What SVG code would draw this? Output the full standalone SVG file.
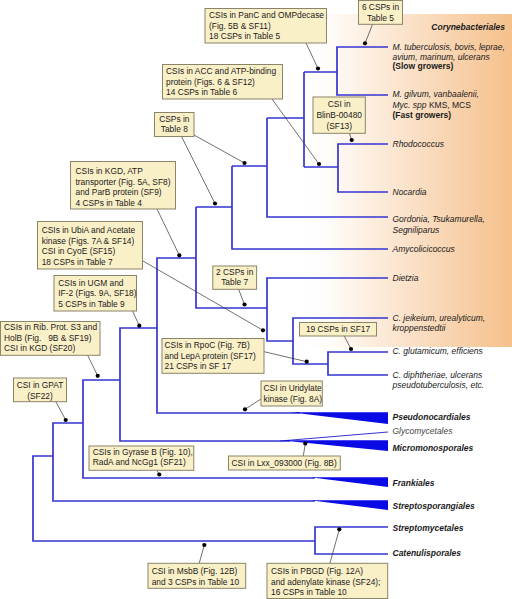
<svg xmlns="http://www.w3.org/2000/svg" width="512" height="599" viewBox="0 0 512 599">
<defs>
<linearGradient id="bg" x1="0" y1="0" x2="1" y2="0">
<stop offset="0" stop-color="#ffffff" stop-opacity="0"/>
<stop offset="0.2" stop-color="#fef7f0"/>
<stop offset="1" stop-color="#f5c08b"/>
</linearGradient>
<style>
text{font-family:"Liberation Sans",Arial,sans-serif;font-size:8.4px;fill:#1a1a1a}
.box rect{fill:#faf0c8;stroke:#8a8468;stroke-width:1}
.c{text-anchor:middle}
.tree path{fill:none;stroke:#3535d2;stroke-width:1.7}
.wedge{fill:#0a0ae6}
.con line{stroke:#333;stroke-width:0.7}
.con circle{fill:#000}
.leaf{font-style:italic;font-size:8.5px}
.clade{font-style:italic;font-weight:bold;font-size:8.5px}
.b{font-weight:bold;font-style:normal}
.r{font-style:normal}
.pre{white-space:pre}
</style>
</defs>
<rect x="300" y="14" width="212" height="333" fill="url(#bg)"/>

<g class="tree" id="tree">
<path d="M388 47H337V95H388"/>
<path d="M337 72H304"/>
<path d="M388 144H338V192H388"/>
<path d="M338 167H304"/>
<path d="M304 72V167"/>
<path d="M304 118H267"/>
<path d="M267 118V217H388"/>
<path d="M267 166H232"/>
<path d="M232 166V249H388"/>
<path d="M232 207H196"/>
<path d="M196 207V308H267"/>
<path d="M388 278H267V341H293"/>
<path d="M388 318H293V364H328"/>
<path d="M388 352H328V375H388"/>
<path d="M196 258H157V413H300"/>
<path d="M157 328H120V441H290"/>
<path d="M120 380H83V478H315"/>
<path d="M83 423H53V501H315"/>
<path d="M53 456H33V541H315"/>
<path d="M388 527H315V554H388"/>
<path d="M280 441L388 432" style="stroke-width:1"/>
<polygon class="wedge" points="290,412.2 388,412.2 388,424"/>
<polygon class="wedge" points="280,440.2 388,440.2 388,451"/>
<polygon class="wedge" points="310,477.2 388,477.2 388,487"/>
<polygon class="wedge" points="310,500.2 388,500.2 388,510"/>
</g>

<g class="con" id="connectors">
<line x1="306" y1="43" x2="318" y2="68.5"/><circle cx="318" cy="68.5" r="2.1"/>
<line x1="272" y1="99" x2="319" y2="164"/><circle cx="319" cy="164" r="2.1"/>
<line x1="194" y1="135" x2="244.5" y2="163"/><circle cx="244.5" cy="163" r="2.1"/>
<line x1="181.5" y1="136.5" x2="215" y2="203.5"/><circle cx="215" cy="203.5" r="2.1"/>
<line x1="157" y1="209" x2="179.3" y2="255.3"/><circle cx="179.3" cy="255.3" r="2.1"/>
<line x1="143" y1="261" x2="263" y2="330.3"/><circle cx="263" cy="330.3" r="2.1"/>
<line x1="238.5" y1="289" x2="244.5" y2="304.5"/><circle cx="244.5" cy="304.5" r="2.1"/>
<line x1="132.5" y1="311" x2="139.3" y2="325.7"/><circle cx="139.3" cy="325.7" r="2.1"/>
<line x1="87.5" y1="355" x2="97.7" y2="375.8"/><circle cx="97.7" cy="375.8" r="2.1"/>
<line x1="56" y1="402" x2="65.7" y2="420"/><circle cx="65.7" cy="420" r="2.1"/>
<line x1="264" y1="351.7" x2="306.7" y2="361.7"/><circle cx="306.7" cy="361.7" r="2.1"/>
<line x1="344.3" y1="336" x2="351" y2="349"/><circle cx="351" cy="349" r="2.1"/>
<line x1="261" y1="399" x2="245" y2="409.3"/><circle cx="245" cy="409.3" r="2.1"/>
<line x1="303.3" y1="456" x2="305.3" y2="443.5"/><circle cx="305.3" cy="443.5" r="2.1"/>
<line x1="156.7" y1="470" x2="159.3" y2="474.5"/><circle cx="159.3" cy="474.5" r="2.1"/>
<line x1="199.3" y1="563" x2="204.3" y2="545"/><circle cx="204.3" cy="545" r="2.1"/>
<line x1="330" y1="563" x2="339.3" y2="529.3"/><circle cx="339.3" cy="529.3" r="2.1"/>
<line x1="372.7" y1="24" x2="365" y2="43.3"/><circle cx="365" cy="43.3" r="2.1"/>
<line x1="349.3" y1="133" x2="351.7" y2="140"/><circle cx="351.7" cy="140" r="2.1"/>
</g>

<g class="box" id="n-panc"><rect x="205" y="8.5" width="121.5" height="34.5"/>
<text x="209" y="18.3">CSIs in PanC and OMPdecase</text>
<text x="209" y="28.8">(Fig. 5B &amp; SF11)</text>
<text x="209" y="39.3">18 CSPs in Table 5</text></g>

<g class="box" id="n-acc"><rect x="162.5" y="64.5" width="120" height="34.5"/>
<text x="166" y="74.3">CSIs in ACC and ATP-binding</text>
<text x="166" y="84.8">protein (Figs. 6 &amp; SF12)</text>
<text x="166" y="95.3">14 CSPs in Table 6</text></g>

<g class="box" id="n-t8"><rect x="154.5" y="112.5" width="39.5" height="24"/>
<text class="c" x="174.3" y="122.3">CSPs in</text>
<text class="c" x="174.3" y="132.3">Table 8</text></g>

<g class="box" id="n-kgd"><rect x="70.5" y="161.5" width="105" height="47.5"/>
<text x="75.5" y="174">CSIs in KGD, ATP</text>
<text x="75.5" y="184.6">transporter (Fig. 5A, SF8)</text>
<text x="75.5" y="195.1">and ParB protein (SF9)</text>
<text x="75.5" y="205.6">4 CSPs in Table 4</text></g>

<g class="box" id="n-ubia"><rect x="37.5" y="221.5" width="105" height="47.5"/>
<text x="41.7" y="233">CSIs in UbiA and Acetate</text>
<text x="41.7" y="243.6">kinase (Figs. 7A &amp; SF14)</text>
<text x="41.7" y="254.2">CSI in CyoE (SF15)</text>
<text x="41.7" y="264.8">18 CSPs in Table 7</text></g>

<g class="box" id="n-t7"><rect x="212.8" y="266" width="43.8" height="23.3"/>
<text class="c" x="234.7" y="274.8">2 CSPs in</text>
<text class="c" x="234.7" y="285.4">Table 7</text></g>

<g class="box" id="n-ugm"><rect x="54" y="275.5" width="82.5" height="35.5"/>
<text x="58.3" y="285.7">CSIs in UGM and</text>
<text x="58.3" y="296.3">IF-2 (Figs. 9A, SF18)</text>
<text x="58.3" y="306.9">5 CSPs in Table 9</text></g>

<g class="box" id="n-rib"><rect x="0.5" y="321.5" width="99.5" height="33.8"/>
<text x="4" y="330">CSIs in Rib. Prot. S3 and</text>
<text class="pre" x="4" y="340.6">HolB (Fig.   9B &amp; SF19)</text>
<text x="4" y="351.1">CSI in KGD (SF20)</text></g>

<g class="box" id="n-gpat"><rect x="13.5" y="378" width="53" height="23.7"/>
<text class="c" x="40" y="388">CSI in GPAT</text>
<text class="c" x="40" y="398.6">(SF22)</text></g>

<g class="box" id="n-rpoc"><rect x="162" y="338.5" width="102" height="34.8"/>
<text x="164.5" y="348">CSIs in RpoC (Fig. 7B)</text>
<text x="164.5" y="358.6">and LepA protein (SF17)</text>
<text x="164.5" y="369.2">21 CSPs in SF 17</text></g>

<g class="box" id="n-sf17"><rect x="299.5" y="322.5" width="77" height="13.5"/>
<text class="c" x="338" y="332.3">19 CSPs in SF17</text></g>

<g class="box" id="n-uri"><rect x="261" y="381" width="61.3" height="25"/>
<text x="263.5" y="391.3">CSI in Uridylate</text>
<text x="263.5" y="402.2">kinase (Fig. 8A)</text></g>

<g class="box" id="n-lxx"><rect x="228.5" y="456" width="111.8" height="14"/>
<text x="231.5" y="466">CSI in Lxx_093000 (Fig. 8B)</text></g>

<g class="box" id="n-gyr"><rect x="89" y="446" width="104.8" height="24.3"/>
<text x="92.7" y="454.7">CSIs in Gyrase B (Fig. 10),</text>
<text x="92.7" y="465.3">RadA and NcGg1 (SF21)</text></g>

<g class="box" id="n-msbb"><rect x="148" y="563.3" width="97.7" height="25"/>
<text x="151.7" y="574">CSI in MsbB (Fig. 12B)</text>
<text x="151.7" y="584.7">and 3 CSPs in Table 10</text></g>

<g class="box" id="n-pbgd"><rect x="267" y="563.3" width="120.7" height="35.2"/>
<text x="271" y="573.7">CSIs in PBGD (Fig. 12A)</text>
<text x="271" y="584.7">and adenylate kinase (SF24);</text>
<text x="271" y="595">16 CSPs in Table 10</text></g>

<g class="box" id="n-t5"><rect x="358.5" y="0.5" width="44" height="23.8"/>
<text class="c" x="380.5" y="9.7">6 CSPs in</text>
<text class="c" x="380.5" y="20.7">Table 5</text></g>

<g class="box" id="n-blin"><rect x="313" y="97" width="52.3" height="36.3"/>
<text class="c" x="339.2" y="107.3">CSI in</text>
<text class="c" x="339.2" y="118">BlinB-00480</text>
<text class="c" x="339.2" y="129">(SF13)</text></g>

<g id="labels">
<text class="clade" x="505" y="30" text-anchor="end">Corynebacteriales</text>
<text class="leaf" x="392.5" y="50.3">M. tuberculosis, bovis, leprae,</text>
<text class="leaf" x="392.5" y="59.7">avium, marinum, ulcerans</text>
<text class="leaf b" x="392.5" y="69">(Slow growers)</text>
<text class="leaf" x="392.5" y="97">M. gilvum, vanbaalenii,</text>
<text class="leaf" x="392.5" y="107.7">Myc. spp<tspan class="r"> KMS, MCS</tspan></text>
<text class="leaf b" x="392.5" y="118.3">(Fast growers)</text>
<text class="leaf" x="392.5" y="147">Rhodococcus</text>
<text class="leaf" x="392.5" y="194.7">Nocardia</text>
<text class="leaf" x="392.5" y="222.3">Gordonia, Tsukamurella,</text>
<text class="leaf" x="392.5" y="233">Segniliparus</text>
<text class="leaf" x="392.5" y="252">Amycolicicoccus</text>
<text class="leaf" x="392.5" y="280.7">Dietzia</text>
<text class="leaf" x="392.5" y="321.3">C. jeikeium, urealyticum,</text>
<text class="leaf" x="392.5" y="331.3">kroppenstedtii</text>
<text class="leaf" x="392.5" y="353.7">C. glutamicum, efficiens</text>
<text class="leaf" x="392.5" y="377.7">C. diphtheriae, ulcerans</text>
<text class="leaf" x="392.5" y="388.3">pseudotuberculosis, etc.</text>
<text class="clade" x="392.5" y="419.7">Pseudonocardiales</text>
<text class="leaf" x="392.5" y="434" style="fill:#444">Glycomycetales</text>
<text class="clade" x="392.5" y="450.7">Micromonosporales</text>
<text class="clade" x="392.5" y="486.3">Frankiales</text>
<text class="clade" x="392.5" y="509">Streptosporangiales</text>
<text class="clade" x="392.5" y="530.7">Streptomycetales</text>
<text class="clade" x="392.5" y="556.3">Catenulisporales</text>
</g>
</svg>
